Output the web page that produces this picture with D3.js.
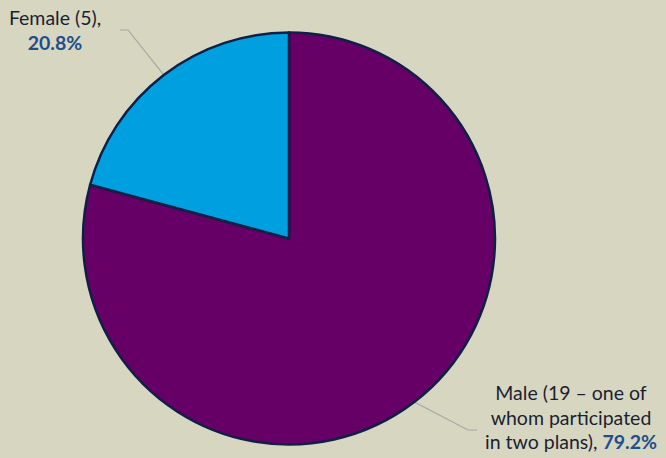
<!DOCTYPE html>
<html><head><meta charset="utf-8">
<script src="https://cdn.jsdelivr.net/npm/d3@7"></script>
<style>body{margin:0;background:#d7d6c1}svg{display:block}</style>
</head><body>
<script>
const categories = ["Male", "Female"];
const values = [79.2, 20.8];
const labelLines = [["Male (19 \u2013 one of", "whom participated", "in two plans), "], ["Female (5),"]];
const pctLabels = ["79.2%", "20.8%"];
const colors = ["#660066", "#009fdf"];

const W = 666, H = 458;
const cx = 289, cy = 238.5, R = 206;
const svg = d3.select("body").append("svg").attr("width", W).attr("height", H);
svg.append("rect").attr("width", W).attr("height", H).attr("fill", "#d7d6c1");

const pie = d3.pie().sort(null).value(d => d)(values);
const arc = d3.arc().innerRadius(0).outerRadius(R);
const g = svg.append("g").attr("transform", `translate(${cx},${cy})`);

const outerPt = d => { const a = (d.startAngle + d.endAngle) / 2; return [R * Math.sin(a), -R * Math.cos(a)]; };
const p0 = outerPt(pie[0]);
const p1 = outerPt(pie[1]);
g.append("polyline").attr("points", [p0, [468 - cx, 430 - cy], [477 - cx, 430 - cy]].map(p => p.join(",")).join(" "))
  .attr("fill", "none").attr("stroke", "#a6a6a6").attr("stroke-width", 1.2);
g.append("polyline").attr("points", [p1, [128 - cx, 30 - cy], [120 - cx, 30 - cy]].map(p => p.join(",")).join(" "))
  .attr("fill", "none").attr("stroke", "#a6a6a6").attr("stroke-width", 1.2);

g.selectAll("path.slice").data(pie).enter().append("path")
  .attr("class", "slice").attr("d", arc)
  .attr("fill", (d, i) => colors[i])
  .attr("stroke", "#0f1f45").attr("stroke-width", 2.5).attr("stroke-linejoin", "round");

const font = "Lato, 'Open Sans', sans-serif";
const fs = 19.5;
const mt = svg.append("text").attr("font-family", font).attr("font-size", fs).attr("fill", "#1a1f33").attr("text-anchor", "middle");
labelLines[0].forEach((l, i) => {
  mt.append("tspan").attr("x", 571).attr("y", 400 + i * 24.5).text(l);
  if (i === 2) mt.append("tspan").attr("font-weight", "bold").attr("fill", "#1f4e8c").text(pctLabels[0]);
});
svg.append("text").attr("font-family", font).attr("font-size", fs).attr("fill", "#1a1f33")
  .attr("text-anchor", "middle").attr("x", 55).attr("y", 25).text(labelLines[1][0]);
svg.append("text").attr("font-family", font).attr("font-size", fs).attr("font-weight", "bold").attr("fill", "#1f4e8c")
  .attr("text-anchor", "middle").attr("x", 55).attr("y", 49.5).text(pctLabels[1]);
</script>
</body></html>
